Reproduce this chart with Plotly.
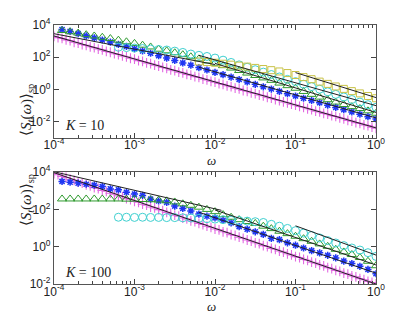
import numpy as np
import plotly.graph_objects as go
from plotly.subplots import make_subplots

# frequency grids (log10 omega)
logw_plus = np.round(np.linspace(-4.0, 0.0, 81), 3)
logw_star = np.round(np.linspace(-3.9, 0.0, 40), 3)
logw_circ = np.round(np.linspace(-3.2, 0.0, 33), 3)
logw_sq = np.round(np.linspace(-2.2, 0.0, 23), 3)

# K = 10, log10 <S_t(w)>_sp
top_plus = [3.30, 3.22, 3.17, 3.08, 3.03, 2.93, 2.88, 2.79, 2.74, 2.65,
            2.60, 2.51, 2.46, 2.36, 2.31, 2.22, 2.17, 2.08, 2.03, 1.94,
            1.89, 1.79, 1.74, 1.65, 1.60, 1.51, 1.46, 1.37, 1.32, 1.22,
            1.17, 1.08, 1.03, 0.94, 0.89, 0.80, 0.75, 0.65, 0.60, 0.51,
            0.46, 0.37, 0.32, 0.23, 0.18, 0.09, 0.04, -0.06, -0.11, -0.20,
            -0.25, -0.34, -0.39, -0.48, -0.53, -0.62, -0.68, -0.77, -0.82, -0.91,
            -0.96, -1.05, -1.10, -1.19, -1.25, -1.34, -1.39, -1.48, -1.53, -1.62,
            -1.67, -1.76, -1.81, -1.91, -1.96, -2.05, -2.10, -2.19, -2.24, -2.33,
            -2.40]
top_star = [3.72, 3.60, 3.47, 3.33, 3.20, 3.07, 2.94, 2.80, 2.67, 2.53,
            2.39, 2.25, 2.10, 1.95, 1.80, 1.65, 1.51, 1.36, 1.21, 1.06,
            0.92, 0.77, 0.62, 0.47, 0.32, 0.17, 0.03, -0.11, -0.26, -0.40,
            -0.54, -0.68, -0.82, -0.97, -1.11, -1.25, -1.39, -1.53, -1.68, -1.82]
top_tri = [3.66, 3.58, 3.50, 3.40, 3.32, 3.24, 3.16, 3.06, 2.96, 2.86,
           2.75, 2.64, 2.50, 2.40, 2.28, 2.16, 2.03, 1.90, 1.77, 1.63,
           1.48, 1.33, 1.18, 1.02, 0.87, 0.72, 0.57, 0.40, 0.24, 0.08,
           -0.12, -0.30, -0.47, -0.63, -0.78, -0.93, -1.06, -1.18, -1.32, -1.47]
top_circ = [2.62, 2.60, 2.57, 2.54, 2.51, 2.48, 2.45, 2.38, 2.30, 2.20,
            2.12, 2.05, 1.95, 1.82, 1.68, 1.53, 1.38, 1.23, 1.08, 0.93,
            0.78, 0.63, 0.49, 0.33, 0.18, 0.02, -0.14, -0.30, -0.46, -0.62,
            -0.78, -0.94, -1.10]
top_sq = [1.74, 1.70, 1.66, 1.60, 1.54, 1.48, 1.42, 1.34, 1.27, 1.20,
          1.12, 1.02, 0.90, 0.77, 0.64, 0.49, 0.35, 0.19, 0.04, -0.10,
          -0.24, -0.40, -0.54]

# K = 100
bot_plus = [3.92, 3.86, 3.77, 3.71, 3.62, 3.56, 3.47, 3.41, 3.32, 3.26,
            3.17, 3.12, 3.02, 2.97, 2.87, 2.82, 2.73, 2.67, 2.58, 2.52,
            2.43, 2.38, 2.28, 2.23, 2.13, 2.08, 1.99, 1.93, 1.84, 1.78,
            1.69, 1.64, 1.54, 1.49, 1.39, 1.34, 1.25, 1.19, 1.10, 1.04,
            0.95, 0.90, 0.80, 0.75, 0.65, 0.60, 0.51, 0.45, 0.36, 0.30,
            0.21, 0.16, 0.06, 0.01, -0.09, -0.14, -0.23, -0.29, -0.38, -0.44,
            -0.53, -0.58, -0.68, -0.73, -0.83, -0.88, -0.97, -1.03, -1.12, -1.18,
            -1.27, -1.32, -1.42, -1.47, -1.57, -1.62, -1.71, -1.77, -1.86, -1.92,
            -2.00]
bot_star = [3.50, 3.46, 3.41, 3.35, 3.30, 3.23, 3.10, 3.05, 2.92, 2.82,
            2.75, 2.55, 2.45, 2.38, 2.18, 2.05, 1.92, 1.75, 1.64, 1.55,
            1.42, 1.28, 1.08, 0.94, 0.80, 0.66, 0.45, 0.38, 0.21, 0.08,
            -0.07, -0.21, -0.33, -0.46, -0.60, -0.77, -0.90, -1.05, -1.22, -1.45]
bot_tri = [2.56, 2.56, 2.56, 2.56, 2.56, 2.56, 2.56, 2.56, 2.55, 2.55,
           2.53, 2.52, 2.50, 2.46, 2.40, 2.30, 2.22, 2.12, 2.00, 1.88,
           1.72, 1.58, 1.45, 1.35, 1.25, 1.10, 0.97, 0.83, 0.70, 0.56,
           0.43, 0.29, 0.15, 0.02, -0.14, -0.28, -0.42, -0.58, -0.78, -1.02]
bot_circ = [1.58, 1.58, 1.57, 1.58, 1.57, 1.57, 1.56, 1.56, 1.55, 1.54,
            1.52, 1.50, 1.48, 1.45, 1.42, 1.40, 1.37, 1.34, 1.30, 1.20,
            1.10, 0.98, 0.86, 0.73, 0.60, 0.47, 0.33, 0.20, 0.06, -0.07,
            -0.18, -0.32, -0.52]

# power-law guide lines: [log w start, log w end], [log S start, log S end]
top_fit_w = [[-4, 0], [-4, -2], [-2, 0], [-2.2, 0], [-2.2, 0], [-1, 0]]
top_fit_s = [[3.32, -2.38], [3.46, 1.55], [1.62, -1.42], [1.38, -1.76], [2.12, -1.0], [1.05, -0.50]]
bot_fit_w = [[-4, 0], [-4, -1.92], [-2, 0], [-2.2, 0], [-1, 0]]
bot_fit_s = [[3.97, -2.0], [4.02, 1.95], [1.97, -0.98], [1.85, -1.42], [1.12, -0.45]]

K_labels = ['<i>K</i> = 10', '<i>K</i> = 100']
xtick_exp = [-4, -3, -2, -1, 0]
ytick_exp = [-2, 0, 2, 4]

MAGENTA = '#e26be2'
BLUE = '#1f36f2'
GREEN = '#2f9a2f'
CYAN = '#3fd0d0'
YELLOW = '#c8c246'


def p10(a):
    return np.power(10.0, np.asarray(a, dtype=float))


def add_series(fig, row, lw, ls, symbol, color, size, width=1.0):
    fig.add_trace(go.Scatter(x=p10(lw), y=p10(ls), mode='markers',
                             marker=dict(symbol=symbol, size=size, color=color,
                                         line=dict(color=color, width=width)),
                             showlegend=False), row=row, col=1)


fig = make_subplots(rows=2, cols=1)

panels = [
    (1, top_plus, top_star, top_tri, top_circ, top_sq, top_fit_w, top_fit_s),
    (2, bot_plus, bot_star, bot_tri, bot_circ, None, bot_fit_w, bot_fit_s),
]
for row, s_plus, s_star, s_tri, s_circ, s_sq, fw, fs in panels:
    add_series(fig, row, logw_plus, s_plus, 'cross-thin-open', MAGENTA, 7, 1.1)
    add_series(fig, row, logw_star, s_star, 'asterisk-open', BLUE, 6, 1.5)
    add_series(fig, row, logw_star, s_tri, 'triangle-up-open', GREEN, 8, 1.0)
    add_series(fig, row, logw_circ, s_circ, 'circle-open', CYAN, 8, 1.0)
    if s_sq is not None:
        add_series(fig, row, logw_sq, s_sq, 'square-open', YELLOW, 7, 1.0)
    for w, s in zip(fw, fs):
        fig.add_trace(go.Scatter(x=p10(w), y=p10(s), mode='lines',
                                 line=dict(color='#222222', width=1),
                                 showlegend=False), row=row, col=1)

minor_x = [m * 10.0 ** e for e in range(-4, 0) for m in range(2, 10)]
axis_common = dict(type='log', showline=True, linecolor='#555555', linewidth=1.2,
                   mirror='allticks', ticks='inside', ticklen=5, tickcolor='#444444',
                   showgrid=False, zeroline=False, automargin=False,
                   tickfont=dict(family='Liberation Sans', size=12, color='#222222'))

for i, (dom_y, yrange) in enumerate([([0.564, 1.0], [-3, 4]), ([0.0, 0.432], [-2, 4])]):
    fig.update_xaxes(range=[-4, 0], domain=[0.0, 1.0],
                     tickvals=[10.0 ** e for e in xtick_exp],
                     ticktext=['10<sup>%d</sup>' % e for e in xtick_exp],
                     ticklabelstandoff=-4,
                     minor=dict(tickvals=minor_x, ticks='inside', ticklen=3,
                                tickcolor='#444444', showgrid=False),
                     row=i + 1, col=1, **axis_common)
    fig.update_yaxes(range=yrange, domain=dom_y,
                     tickvals=[10.0 ** e for e in ytick_exp],
                     ticktext=['10<sup>%d</sup>' % e for e in ytick_exp],
                     row=i + 1, col=1, **axis_common)

serif = dict(family='Liberation Serif', size=15, color='#222222')
wfont = dict(family='Liberation Serif', size=13, color='#222222')
ann = []
# omega labels under each panel
ann.append(dict(text='<i>ω</i>', x=0.49, y=0.478, xref='paper', yref='paper',
                showarrow=False, font=wfont))
ann.append(dict(text='<i>ω</i>', x=0.49, y=-0.122, xref='paper', yref='paper',
                showarrow=False, font=wfont))
# y labels
for yy in [0.78, 0.215]:
    ann.append(dict(text='⟨<i>S<sub>t</sub></i>(<i>ω</i>)⟩<sub>sp</sub>',
                    x=-0.118, y=yy, xref='paper', yref='paper', textangle=-90,
                    showarrow=False, font=serif))
# K labels
kfont = dict(family='Liberation Serif', size=14, color='#222222')
ann.append(dict(text=K_labels[0], x=0.028, y=0.575, xref='paper', yref='paper',
                xanchor='left', yanchor='bottom', showarrow=False, font=kfont))
ann.append(dict(text=K_labels[1], x=0.028, y=0.008, xref='paper', yref='paper',
                xanchor='left', yanchor='bottom', showarrow=False, font=kfont))

# the page body adds an 8 px offset, so margins are shifted to compensate
fig.update_layout(width=415, height=330, margin=dict(l=46, r=47, t=17, b=54),
                  plot_bgcolor='#ffffff', paper_bgcolor='#ffffff',
                  annotations=ann, showlegend=False)

fig.write_html('out.html')
